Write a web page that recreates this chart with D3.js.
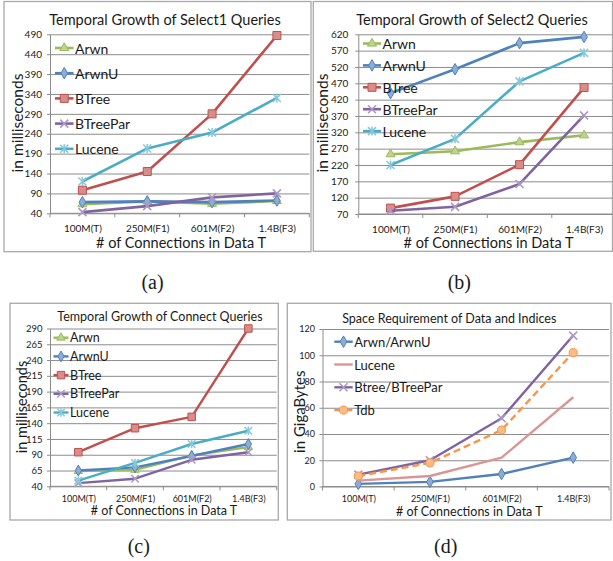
<!DOCTYPE html>
<html><head><meta charset="utf-8">
<script src="https://cdn.jsdelivr.net/npm/d3@7"></script>
<style>
body{margin:0;background:#fff;}
svg{display:block;}
text{font-family:Lato,"Open Sans",sans-serif;fill:#1a1a1a;}
.cap{font-family:"Liberation Serif","DejaVu Serif",serif;}
</style></head>
<body>
<svg id="c" width="613" height="561"></svg>
<script>
// ---------- data ----------
const categories = ["100M(T)", "250M(F1)", "601M(F2)", "1.4B(F3)"];

// (a) Select1 queries, ms
const s1Arwn     = [63, 70, 64, 71];
const s1ArwnU    = [68, 70, 68, 72];
const s1BTree    = [98, 145, 290, 487];
const s1BTreePar = [43, 58, 80, 90];
const s1Lucene   = [120, 203, 243, 330];
const s1Ticks    = [40, 90, 140, 190, 240, 290, 340, 390, 440, 490];

// (b) Select2 queries, ms
const s2Arwn     = [253, 262, 290, 311];
const s2ArwnU    = [440, 513, 593, 612];
const s2BTree    = [88, 124, 221, 457];
const s2BTreePar = [80, 92, 162, 372];
const s2Lucene   = [220, 300, 476, 563];
const s2Ticks    = [70, 120, 170, 220, 270, 320, 370, 420, 470, 520, 570, 620];

// (c) Connect queries, ms
const cArwn      = [64, 66, 89, 102];
const cArwnU     = [65, 70, 88, 107];
const cBTree     = [94, 132, 150, 290];
const cBTreePar  = [45, 52, 82, 94];
const cLucene    = [49, 77, 107, 128];
const cTicks     = [40, 65, 90, 115, 140, 165, 190, 215, 240, 265, 290];

// (d) Space requirement, GB
const dArwn      = [2, 3.5, 9.5, 22];
const dLucene    = [4.5, 8, 22, 68];
const dBtree     = [9, 20, 52, 115];
const dTdb       = [8, 18, 43, 102];
const dTicks     = [0, 20, 40, 60, 80, 100, 120];

const seriesNames = ["Arwn", "ArwnU", "BTree", "BTreePar", "Lucene"];
const spaceNames  = ["Arwn/ArwnU", "Lucene", "Btree/BTreePar", "Tdb"];

// ---------- styles ----------
const C = {green:"#9BBB59", blue:"#4F81BD", red:"#C0504D", purple:"#8064A2", cyan:"#4BACC6", orange:"#F79646", pink:"#D99694"};
const queryStyles = [
  {color:C.green,  marker:"triangle"},
  {color:C.blue,   marker:"diamond"},
  {color:C.red,    marker:"square"},
  {color:C.purple, marker:"x"},
  {color:C.cyan,   marker:"star"}
];
const spaceStyles = [
  {color:C.blue,   marker:"diamond"},
  {color:C.pink,   marker:"none"},
  {color:C.purple, marker:"x"},
  {color:C.orange, marker:"circle", dash:"7,4"}
];

const svg = d3.select("#c");

function drawMarker(g, type, color, x, y, s) {
  const light = d3.interpolateRgb(color, "#fff")(0.35);
  if (type === "none") return;
  if (type === "x" || type === "star") {
    const h = s / 2;
    let p = `M${x-h},${y-h}L${x+h},${y+h}M${x-h},${y+h}L${x+h},${y-h}`;
    if (type === "star") p += `M${x},${y-h-0.5}L${x},${y+h+0.5}`;
    g.append("path").attr("d", p).attr("stroke", light).attr("stroke-width", 1.6).attr("fill", "none");
    return;
  }
  const map = {triangle:d3.symbolTriangle, diamond:d3.symbolDiamond, square:d3.symbolSquare, circle:d3.symbolCircle};
  const area = {triangle:s*s*0.55, diamond:s*s*0.6, square:s*s, circle:s*s*0.8}[type];
  g.append("path").attr("d", d3.symbol().type(map[type]).size(area)())
    .attr("transform", `translate(${x},${y})`)
    .attr("fill", light).attr("stroke", color).attr("stroke-width", 1);
}

function panel(cfg) {
  const g = svg.append("g");
  // frame
  g.append("rect").attr("x", cfg.frame[0]).attr("y", cfg.frame[1])
    .attr("width", cfg.frame[2]-cfg.frame[0]).attr("height", cfg.frame[3]-cfg.frame[1])
    .attr("fill", "#fff").attr("stroke", "#a8a8a8").attr("stroke-width", 1.3);

  const x = d3.scalePoint().domain(categories).range([cfg.x0, cfg.x1]).padding(0.5);
  const y = d3.scaleLinear().domain([cfg.ticks[0], cfg.ticks[cfg.ticks.length-1]]).range([cfg.y0, cfg.y1]);
  const clipId = "clip" + cfg.id;
  svg.append("clipPath").attr("id", clipId).append("rect")
    .attr("x", cfg.frame[0]).attr("y", cfg.frame[1]).attr("width", cfg.frame[2]-cfg.frame[0]).attr("height", cfg.frame[3]-cfg.frame[1]);
  const inner = g.append("g").attr("clip-path", `url(#${clipId})`);

  // gridlines
  const grid = inner.append("g").attr("transform", `translate(${cfg.x0},0)`)
    .call(d3.axisLeft(y).tickValues(cfg.ticks).tickSize(-(cfg.x1-cfg.x0)).tickFormat(""));
  grid.select(".domain").remove();
  grid.selectAll("line").attr("stroke", "#8c8c8c").attr("stroke-width", 1);

  // y axis
  const ya = g.append("g").attr("transform", `translate(${cfg.x0},0)`)
    .call(d3.axisLeft(y).tickValues(cfg.ticks).tickSizeInner(3).tickSizeOuter(0).tickPadding(cfg.yPad));
  ya.select(".domain").attr("stroke", "#8c8c8c");
  ya.selectAll("line").attr("stroke", "#8c8c8c");
  ya.selectAll("text").style("font-family", "Lato,sans-serif").style("font-size", cfg.tickFont + "px").attr("fill", "#1a1a1a");

  // x axis
  const xa = inner.append("g").attr("transform", `translate(0,${cfg.y0})`)
    .call(d3.axisBottom(x).tickSize(0).tickPadding(cfg.xPad));
  xa.select(".domain").attr("stroke", "#8c8c8c").attr("d", `M${cfg.x0},0H${cfg.x1}`);
  xa.selectAll("text").style("font-family", "Lato,sans-serif").style("font-size", cfg.xTickFont + "px").attr("fill", "#1a1a1a");
  const step = x.step();
  inner.append("g").selectAll("line").data(d3.range(categories.length + 1)).join("line")
    .attr("x1", i => cfg.x0 + i*step).attr("x2", i => cfg.x0 + i*step)
    .attr("y1", cfg.y0).attr("y2", cfg.y0 + 4).attr("stroke", "#8c8c8c");

  // titles
  g.append("text").attr("x", cfg.title[0]).attr("y", cfg.title[1]).attr("text-anchor", "middle")
    .style("font-size", cfg.titleFont + "px").text(cfg.titleText);
  g.append("text").attr("x", cfg.xTitle[0]).attr("y", cfg.xTitle[1]).attr("text-anchor", "middle")
    .style("font-size", cfg.xTitleFont + "px").text("# of Connections in Data T");
  g.append("text").attr("transform", `translate(${cfg.yTitle[0]},${cfg.yTitle[1]}) rotate(-90)`)
    .attr("text-anchor", "middle").attr("dominant-baseline", "central")
    .style("font-size", cfg.yTitleFont + "px").text(cfg.yTitleText);

  // series
  const line = d3.line().x((d, i) => x(categories[i])).y(d => y(d));
  cfg.series.forEach((vals, k) => {
    const st = cfg.styles[k];
    inner.append("path").datum(vals).attr("d", line).attr("fill", "none")
      .attr("stroke", st.color).attr("stroke-width", cfg.lw).attr("stroke-linejoin", "round")
      .attr("stroke-dasharray", st.dash || null);
    vals.forEach((v, i) => drawMarker(inner, st.marker, st.color, x(categories[i]), y(v), cfg.ms));
  });

  // legend
  cfg.names.forEach((n, k) => {
    const st = cfg.styles[k];
    const ly = cfg.leg.y0 + k*cfg.leg.dy;
    g.append("line").attr("x1", cfg.leg.x0).attr("x2", cfg.leg.x1).attr("y1", ly).attr("y2", ly)
      .attr("stroke", st.color).attr("stroke-width", cfg.lw).attr("stroke-dasharray", st.dash || null);
    drawMarker(g, st.marker, st.color, (cfg.leg.x0 + cfg.leg.x1)/2, ly, cfg.ms);
    g.append("text").attr("x", cfg.leg.x1 + 1.5).attr("y", ly).attr("dominant-baseline", "central")
      .style("font-size", cfg.leg.font + "px").text(n);
  });

  svg.append("text").attr("class", "cap").attr("x", cfg.cap[0]).attr("y", cfg.cap[1])
    .attr("text-anchor", "middle").style("font-size", "20px").text(cfg.capText);
}

panel({id:"a", frame:[4, 1.5, 311, 251.7], x0:50, x1:309.3, y0:213.3, y1:34.3, ticks:s1Ticks,
  series:[s1Arwn, s1ArwnU, s1BTree, s1BTreePar, s1Lucene], names:seriesNames, styles:queryStyles,
  yPad:5, tickFont:10, xPad:12, xTickFont:10,
  title:[165, 24.5], titleFont:14.5, titleText:"Temporal Growth of Select1 Queries",
  xTitle:[181, 248], xTitleFont:14.5, yTitle:[16.5, 123], yTitleFont:15.5, yTitleText:"in milliseconds",
  lw:2.6, ms:8, leg:{x0:55, x1:73.5, y0:48, dy:25.2, font:14}, cap:[152.5, 289], capText:"(a)"});

panel({id:"b", frame:[313.3, 1.5, 612.5, 251.3], x0:358.3, x1:616.3, y0:214, y1:34.3, ticks:s2Ticks,
  series:[s2Arwn, s2ArwnU, s2BTree, s2BTreePar, s2Lucene], names:seriesNames, styles:queryStyles,
  yPad:7, tickFont:10, xPad:12, xTickFont:10,
  title:[472, 24.5], titleFont:14.5, titleText:"Temporal Growth of Select2 Queries",
  xTitle:[488.5, 248], xTitleFont:14.5, yTitle:[321.5, 123], yTitleFont:15.5, yTitleText:"in milliseconds",
  lw:2.6, ms:8, leg:{x0:363, x1:381, y0:43.5, dy:21.9, font:14}, cap:[459.3, 289], capText:"(b)"});

panel({id:"c", frame:[10, 303.3, 278.3, 520], x0:50, x1:276.7, y0:486.3, y1:328.5, ticks:cTicks,
  series:[cArwn, cArwnU, cBTree, cBTreePar, cLucene], names:seriesNames, styles:queryStyles,
  yPad:4.5, tickFont:9.5, xPad:9.5, xTickFont:9,
  title:[160, 320.7], titleFont:12.5, titleText:"Temporal Growth of Connect Queries",
  xTitle:[164, 515], xTitleFont:12.5, yTitle:[21, 407], yTitleFont:14.5, yTitleText:"in milliseconds",
  lw:2.4, ms:7.5, leg:{x0:53.5, x1:68.5, y0:337.7, dy:18.7, font:12.5}, cap:[138.8, 553], capText:"(c)"});

panel({id:"d", frame:[287.3, 303.3, 611, 520], x0:322.5, x1:609, y0:486.5, y1:329, ticks:dTicks,
  series:[dArwn, dLucene, dBtree, dTdb], names:spaceNames, styles:spaceStyles,
  yPad:4.5, tickFont:9, xPad:9, xTickFont:9,
  title:[449.3, 323.3], titleFont:12.5, titleText:"Space Requirement of Data and Indices",
  xTitle:[469.3, 516], xTitleFont:12.5, yTitle:[298.7, 411.7], yTitleFont:15, yTitleText:"in GigaBytes",
  lw:2.4, ms:8, leg:{x0:334.3, x1:352.7, y0:341.7, dy:22.8, font:13}, cap:[445.7, 553], capText:"(d)"});
</script>
</body></html>
